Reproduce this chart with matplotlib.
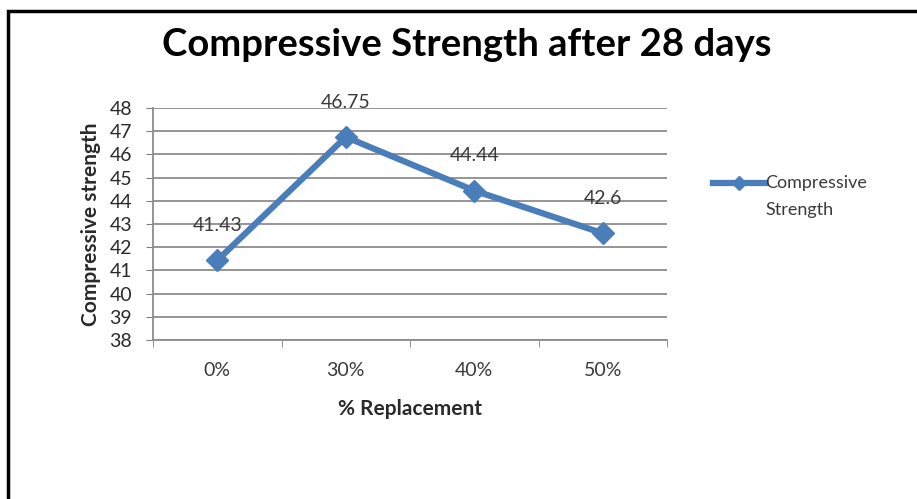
import matplotlib
matplotlib.use("Agg")
import matplotlib.pyplot as plt
from matplotlib.patches import Rectangle
from matplotlib.lines import Line2D

categories = ["0%", "30%", "40%", "50%"]
values = [41.43, 46.75, 44.44, 42.6]
yticks = list(range(38, 49))

plt.rcParams['font.family'] = ['Lato', 'DejaVu Sans']

fig = plt.figure(figsize=(9.17, 4.99), dpi=100)
ax = fig.add_axes([153/917, 1-340/499, (667-153)/917, (340-108)/499])

blue = '#4A7EBB'
txt = '#2a2a2a'
x = list(range(len(categories)))
ax.plot(x, values, color=blue, lw=4.5, marker='D', ms=11, mfc=blue, mec=blue,
        solid_capstyle='round', zorder=3)
for xi, v in zip(x, values):
    ax.annotate(f"{v:g}", (xi, v), xytext=(0, 25), textcoords='offset points',
                ha='center', va='center', fontsize=14, color='#3a3a3a')

ax.set_xlim(-0.5, len(categories) - 0.5)
ax.set_ylim(38, 48)
ax.set_yticks(yticks)
ax.set_yticklabels([str(t) for t in yticks], fontsize=14, color=txt)
ax.set_xticks(x)
ax.set_xticklabels(categories, fontsize=14, color='#3a3a3a')
ax.set_xticks([-0.5, 0.5, 1.5, 2.5, 3.5], minor=True)
ax.tick_params(axis='x', which='major', length=0, pad=16)
ax.tick_params(axis='x', which='minor', length=5, color='#808080', direction='out')
ax.tick_params(axis='y', length=5, color='#808080', pad=10)
ax.grid(axis='y', color='#8c8c8c', lw=1.3)
ax.set_axisbelow(True)
for s in ['top', 'right']:
    ax.spines[s].set_visible(False)
for s in ['left', 'bottom']:
    ax.spines[s].set_color('#8c8c8c')
    ax.spines[s].set_linewidth(1.3)

ax.set_xlabel('% Replacement', fontsize=15, fontweight='bold', color=txt, labelpad=14)
ax.set_ylabel('Compressive strength', fontsize=15, fontweight='bold', color=txt, labelpad=6)

fig.text(467/917, 1-45/499, 'Compressive Strength after 28 days', ha='center', va='center',
         fontsize=27.5, fontweight='bold', color='black')

# legend (drawn manually to align line with first text line)
fig.lines.append(Line2D([713/917, 765/917], [1-183/499, 1-183/499], transform=fig.transFigure,
                        color=blue, lw=4.5, figure=fig))
fig.lines.append(Line2D([739/917], [1-183/499], transform=fig.transFigure, color=blue,
                        marker='D', ms=7, mfc=blue, mec=blue, figure=fig))
fig.text(765/917, 1-183/499, 'Compressive', ha='left', va='center', fontsize=13, color='#3a3a3a')
fig.text(765/917, 1-210/499, 'Strength', ha='left', va='center', fontsize=13, color='#3a3a3a')

# outer frame
fig.patches.append(Rectangle((8/917, -0.05), 1.1, 1-11/499 + 0.05, transform=fig.transFigure,
                             fill=False, edgecolor='black', lw=2.5, figure=fig))

fig.savefig('out.png', dpi=100)
